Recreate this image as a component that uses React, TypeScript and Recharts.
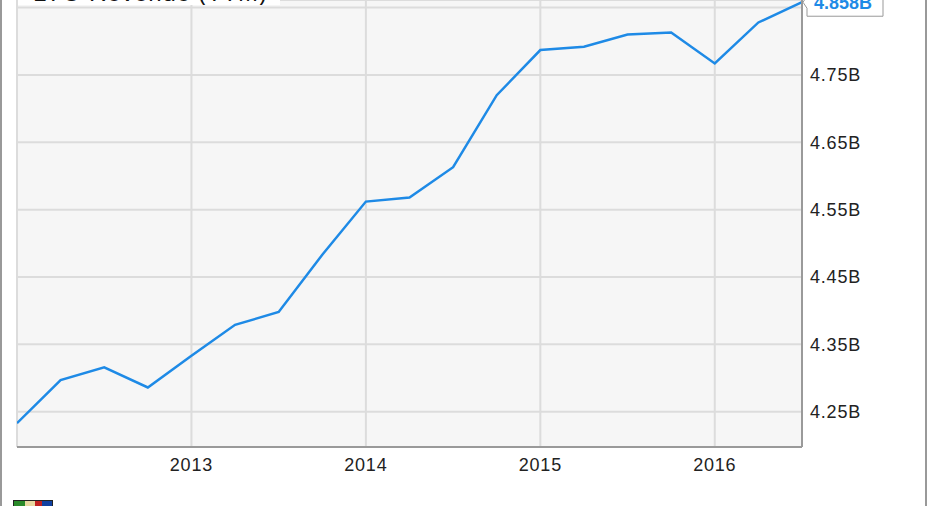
import { LineChart, Line, XAxis, YAxis, CartesianGrid, ReferenceDot } from "recharts";

// quarter ends as decimal years (Dec 2011 .. Jun 2016)
const quarters = [
  2012, 2012.25, 2012.5, 2012.75, 2013, 2013.25, 2013.5, 2013.75, 2014, 2014.25,
  2014.5, 2014.75, 2015, 2015.25, 2015.5, 2015.75, 2016, 2016.25, 2016.5,
];
// TTM revenue, billions
const revenue = [
  4.233, 4.297, 4.316, 4.286, 4.333, 4.379, 4.398, 4.483, 4.562, 4.568,
  4.613, 4.72, 4.787, 4.792, 4.81, 4.813, 4.767, 4.828, 4.858,
];
const yearTicks = [2013, 2014, 2015, 2016];
const revenueTicks = [4.25, 4.35, 4.45, 4.55, 4.65, 4.75, 4.85];
const lastLabel = "4.858B";
const title = "LYO Revenue (TTM)";

const data = quarters.map((t, i) => ({ t, revenue: revenue[i] }));

const FONT = "'Liberation Sans', Arial, sans-serif";
const BLUE = "#1e8ae6";
const yDomain: [number, number] = [4.1976, 4.8613];

function Callout(props: any) {
  const { cx, cy } = props;
  if (cx == null || cy == null) return null;
  const x0 = cx + 5;
  const w = 76;
  const h = 28;
  const d = `M${cx + 1},${cy} L${x0},${cy - 6} L${x0},${cy - h / 2} L${x0 + w},${cy - h / 2} L${x0 + w},${cy + h / 2} L${x0},${cy + h / 2} L${x0},${cy + 6} Z`;
  return (
    <g>
      <path d={d} fill="#fff" stroke="#999" strokeWidth={1} />
      <text
        x={x0 + 7}
        y={cy}
        dy="0.36em"
        fill={BLUE}
        fontFamily={FONT}
        fontSize={18}
        fontWeight="bold"
      >
        {lastLabel}
      </text>
    </g>
  );
}

export default function App() {
  const tickStyle = { fontSize: 18, fill: "#222", fontFamily: FONT, letterSpacing: 0.8 };
  return (
    <div
      style={{
        position: "relative",
        width: 931,
        height: 506,
        overflow: "hidden",
        background: "#fff",
      }}
    >
      <style>{`body{margin:0}`}</style>
      {/* outer frame */}
      <div
        style={{
          position: "absolute",
          left: 0,
          top: 0,
          width: 923,
          height: 506,
          borderLeft: "2px solid #999",
          borderRight: "2px solid #999",
        }}
      />
      <LineChart
        width={931}
        height={506}
        data={data}
        margin={{ top: 0, right: 0, bottom: 0, left: 17 }}
        style={{ position: "absolute", left: 0, top: 0 }}
      >
        <CartesianGrid stroke="#dcdcdc" strokeWidth={2} fill="#f6f6f6" yAxisId="r" />
        <XAxis
          dataKey="t"
          type="number"
          domain={[2012, 2016.5]}
          ticks={yearTicks}
          height={59}
          tickLine={false}
          tickSize={0}
          tickMargin={11}
          axisLine={{ stroke: "#9a9a9a", strokeWidth: 2 }}
          tick={tickStyle}
          allowDataOverflow
        />
        <YAxis
          yAxisId="r"
          orientation="right"
          width={129}
          domain={yDomain}
          ticks={revenueTicks}
          allowDataOverflow
          tickLine={false}
          tickSize={0}
          tickMargin={8}
          axisLine={{ stroke: "#9a9a9a", strokeWidth: 2 }}
          tick={{ ...tickStyle, textAnchor: "start" }}
          tickFormatter={(v: number) => (v === 4.85 ? "" : `${v.toFixed(2)}B`)}
        />
        <YAxis
          yAxisId="l"
          orientation="left"
          width={0}
          domain={yDomain}
          tick={false}
          tickLine={false}
          axisLine={{ stroke: "#9a9a9a", strokeWidth: 2 }}
        />
        <Line
          yAxisId="r"
          type="linear"
          dataKey="revenue"
          stroke={BLUE}
          strokeWidth={2.5}
          dot={false}
          isAnimationActive={false}
        />
        <ReferenceDot
          yAxisId="r"
          x={quarters[quarters.length - 1]}
          y={revenue[revenue.length - 1]}
          ifOverflow="visible"
          shape={Callout}
        />
      </LineChart>
      {/* title box, mostly cut off by the top edge */}
      <div
        style={{
          position: "absolute",
          left: 18,
          top: -19,
          width: 262,
          height: 24,
          background: "#fff",
          fontFamily: FONT,
          fontSize: 24,
          letterSpacing: 0.8,
          color: "#111",
          lineHeight: "24px",
          paddingLeft: 15,
          boxSizing: "border-box",
          whiteSpace: "nowrap",
          overflow: "hidden",
        }}
      >
        {title}
      </div>
      {/* logo stub */}
      <div
        style={{
          position: "absolute",
          left: 13,
          top: 500,
          width: 40,
          height: 8,
          background: "linear-gradient(90deg,#2a8a2a 0 30%,#e8d8a0 30% 55%,#c02020 55% 75%,#1040a0 75%)",
          border: "1px solid #222",
          boxSizing: "border-box",
        }}
      />
    </div>
  );
}
